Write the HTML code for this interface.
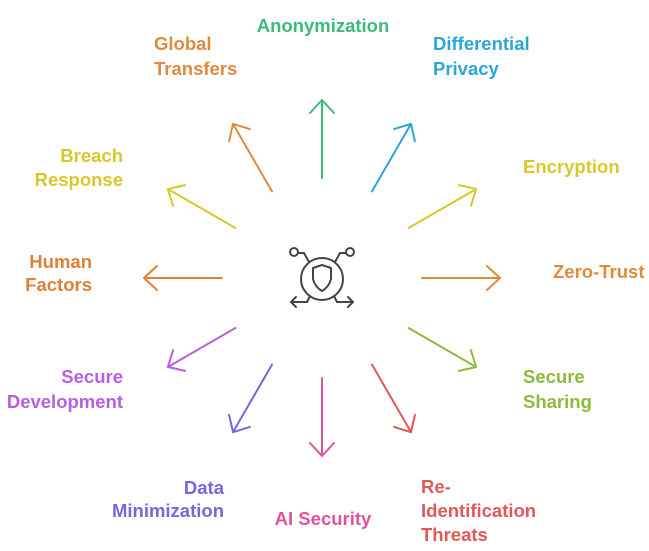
<!DOCTYPE html>
<html><head><meta charset="utf-8"><style>
html,body{margin:0;padding:0;background:#fff;}
svg{display:block;}
text{font-family:"Liberation Sans",sans-serif;font-weight:bold;font-size:18.5px;}
</style></head><body>
<svg width="649" height="551" viewBox="0 0 649 551" xmlns="http://www.w3.org/2000/svg">
<g fill="none" stroke-width="2" stroke-linecap="round" stroke-linejoin="round">
<g transform="translate(322,278) rotate(-90)" stroke="#3dbb7a"><path d="M100,0H178M165,-12L178,0L165,12"/></g>
<g transform="translate(322,278) rotate(-60)" stroke="#2aa7d8"><path d="M100,0H178M165,-12L178,0L165,12"/></g>
<g transform="translate(322,278) rotate(-30)" stroke="#d9c82a"><path d="M100,0H178M165,-12L178,0L165,12"/></g>
<g transform="translate(322,278) rotate(0)" stroke="#e08a3c"><path d="M100,0H178M165,-12L178,0L165,12"/></g>
<g transform="translate(322,278) rotate(30)" stroke="#8dbb3a"><path d="M100,0H178M165,-12L178,0L165,12"/></g>
<g transform="translate(322,278) rotate(60)" stroke="#e05858"><path d="M100,0H178M165,-12L178,0L165,12"/></g>
<g transform="translate(322,278) rotate(90)" stroke="#e0529c"><path d="M100,0H178M165,-12L178,0L165,12"/></g>
<g transform="translate(322,278) rotate(120)" stroke="#7a64e0"><path d="M100,0H178M165,-12L178,0L165,12"/></g>
<g transform="translate(322,278) rotate(150)" stroke="#b85ee0"><path d="M100,0H178M165,-12L178,0L165,12"/></g>
<g transform="translate(322,278) rotate(180)" stroke="#e08038"><path d="M100,0H178M165,-12L178,0L165,12"/></g>
<g transform="translate(322,278) rotate(210)" stroke="#d9c82a"><path d="M100,0H178M165,-12L178,0L165,12"/></g>
<g transform="translate(322,278) rotate(240)" stroke="#e08a40"><path d="M100,0H178M165,-12L178,0L165,12"/></g>
<g stroke="#444" stroke-width="2">
<circle cx="322" cy="279" r="21"/>
<path d="M313,268 L322,265 L331,268 L331,279 Q329,287 322,291 Q315,287 313,279 Z"/>
<circle cx="294" cy="252" r="4"/><circle cx="350" cy="252" r="4"/>
<path d="M298,253 H304 L309,262"/><path d="M346,253 H340 L335,262"/>
<path d="M310,296 L307,302 H291 M296,297 L291,302 L296,307"/>
<path d="M334,296 L337,302 H353 M348,297 L353,302 L348,307"/>
</g>
</g>
<text x="323" y="32" text-anchor="middle" fill="#3dbb7a">Anonymization</text>
<text x="154" y="50" fill="#e08a40">Global</text>
<text x="154" y="75" fill="#e08a40">Transfers</text>
<text x="433" y="50" fill="#2aa7d8">Differential</text>
<text x="433" y="75" fill="#2aa7d8">Privacy</text>
<text x="523" y="173" fill="#d9c82a">Encryption</text>
<text x="553" y="278" fill="#e08a3c">Zero-Trust</text>
<text x="523" y="383" fill="#8dbb3a">Secure</text>
<text x="523" y="408" fill="#8dbb3a">Sharing</text>
<text x="421" y="493" fill="#e05858">Re-</text>
<text x="421" y="517" fill="#e05858">Identification</text>
<text x="421" y="541" fill="#e05858">Threats</text>
<text x="323" y="525" text-anchor="middle" fill="#e0529c">AI Security</text>
<text x="224" y="494" text-anchor="end" fill="#7a64e0">Data</text>
<text x="224" y="517" text-anchor="end" fill="#7a64e0">Minimization</text>
<text x="123" y="383" text-anchor="end" fill="#b85ee0">Secure</text>
<text x="123" y="408" text-anchor="end" fill="#b85ee0">Development</text>
<text x="92" y="268" text-anchor="end" fill="#e08038">Human</text>
<text x="92" y="291" text-anchor="end" fill="#e08038">Factors</text>
<text x="123" y="162" text-anchor="end" fill="#d9c82a">Breach</text>
<text x="123" y="186" text-anchor="end" fill="#d9c82a">Response</text>
</svg>
</body></html>
